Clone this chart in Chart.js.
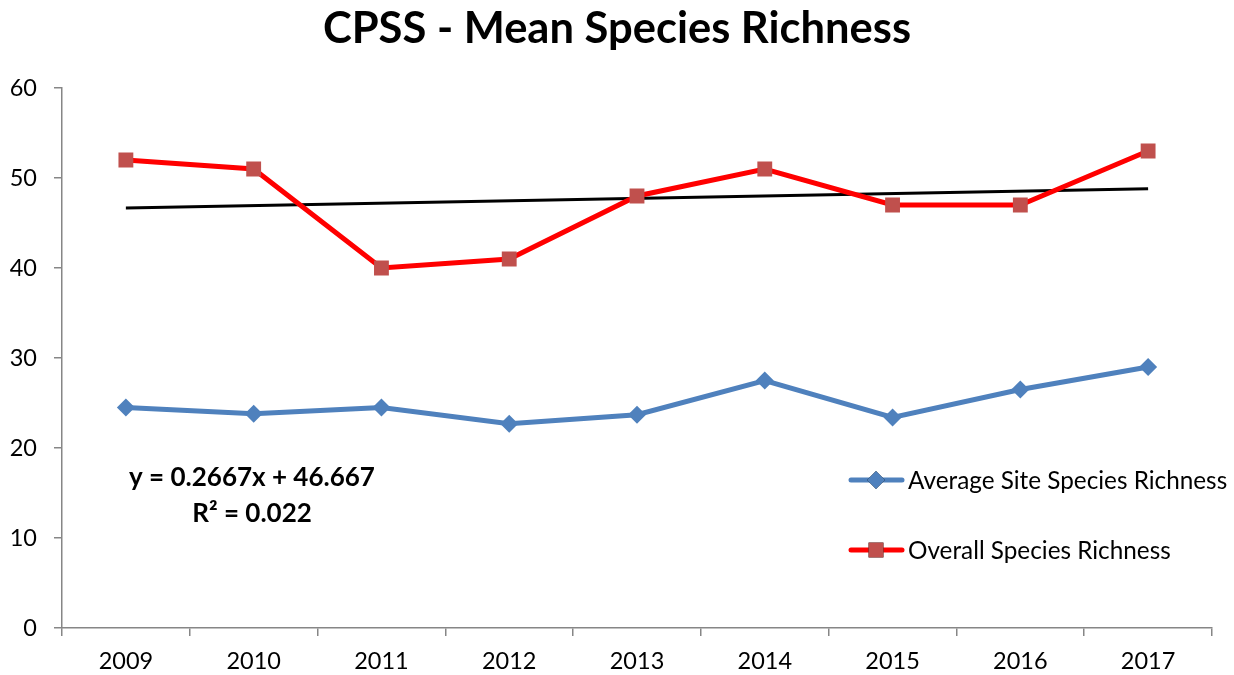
<!DOCTYPE html>
<html>
<head>
<meta charset="utf-8">
<title>CPSS - Mean Species Richness</title>
<script src="https://cdn.jsdelivr.net/npm/chart.js@4"></script>
<style>
  html, body { margin: 0; padding: 0; background: #fff; }
  #wrap { width: 1234px; height: 675px; position: relative; }
</style>
</head>
<body>
<div id="wrap"><canvas id="richnessChart"></canvas></div>
<script>
// survey years and richness values
const years = ['2009', '2010', '2011', '2012', '2013', '2014', '2015', '2016', '2017'];
const averageSite = [24.5, 23.8, 24.5, 22.7, 23.7, 27.5, 23.4, 26.5, 29];
const overall = [52, 51, 40, 41, 48, 51, 47, 47, 53];
const yTicks = [0, 10, 20, 30, 40, 50, 60];

// linear trend of overall richness (x counted from 0 at the first year)
const trendSlope = 0.2667;
const trendIntercept = 46.667;
const trendR2 = 0.022;
const trend = years.map((y, i) =>
    (i === 0 || i === years.length - 1) ? trendIntercept + trendSlope * i : null);

const FONT = 'Lato, "Open Sans", sans-serif';
const AXIS_GREY = '#868686';

// title, trend equation and the in-plot legend
const annotations = {
    id: 'annotations',
    afterDraw(chart) {
        const ctx = chart.ctx;
        ctx.save();
        ctx.fillStyle = '#000';
        ctx.textBaseline = 'middle';

        ctx.font = 'bold 43.5px ' + FONT;
        ctx.textAlign = 'center';
        ctx.fillText('CPSS - Mean Species Richness', 617, 29);

        ctx.font = 'bold 26px ' + FONT;
        ctx.fillText('y = ' + trendSlope + 'x + ' + trendIntercept, 252, 478);
        ctx.fillText('R² = ' + trendR2, 252, 514);

        const items = [
            { label: 'Average Site Species Richness', ds: chart.data.datasets[0], y: 480 },
            { label: 'Overall Species Richness', ds: chart.data.datasets[1], y: 550 }
        ];
        items.forEach(it => {
            ctx.strokeStyle = it.ds.borderColor;
            ctx.lineWidth = it.ds.borderWidth;
            ctx.lineCap = 'round';
            ctx.beginPath();
            ctx.moveTo(851, it.y);
            ctx.lineTo(902, it.y);
            ctx.stroke();
            Chart.helpers.drawPoint(ctx, {
                pointStyle: it.ds.pointStyle,
                radius: it.ds.pointRadius,
                borderWidth: 0
            }, 876, it.y);
            ctx.fillStyle = it.ds.pointBackgroundColor;
            ctx.fill();
            ctx.fillStyle = '#000';
            ctx.textAlign = 'left';
            ctx.font = '24.3px ' + FONT;
            ctx.fillText(it.label, 908, it.y + 1);
        });
        ctx.restore();
    }
};

const config = {
    type: 'line',
    data: {
        labels: years,
        datasets: [{
            label: 'Average Site Species Richness',
            data: averageSite,
            borderColor: '#4F81BD',
            borderWidth: 5,
            pointStyle: 'rectRot',
            pointRadius: 9,
            pointBackgroundColor: '#4F81BD',
            pointBorderColor: '#4F81BD',
            pointBorderWidth: 0,
            tension: 0
        }, {
            label: 'Overall Species Richness',
            data: overall,
            borderColor: '#FF0000',
            borderWidth: 5,
            pointStyle: 'rect',
            pointRadius: 10.5,
            pointBackgroundColor: '#C0504D',
            pointBorderColor: '#C0504D',
            pointBorderWidth: 0,
            tension: 0
        }, {
            label: 'Trend',
            data: trend,
            borderColor: '#000',
            borderWidth: 3,
            pointRadius: 0,
            spanGaps: true
        }]
    },
    options: {
        responsive: false,
        animation: false,
        layout: { padding: { top: 88, right: 22, left: 0, bottom: 0 } },
        plugins: {
            legend: { display: false },
            title: { display: false },
            tooltip: { enabled: false }
        },
        scales: {
            x: {
                offset: true,
                grid: {
                    offset: true,
                    drawOnChartArea: false,
                    drawTicks: true,
                    tickLength: 8,
                    color: AXIS_GREY,
                    lineWidth: 1.5
                },
                border: { color: AXIS_GREY, width: 1.5 },
                ticks: {
                    color: '#000',
                    padding: 11,
                    maxRotation: 0,
                    font: { family: FONT, size: 23.5 }
                },
                afterFit(scale) { scale.height = 47; }
            },
            y: {
                min: 0,
                max: 60,
                afterBuildTicks(scale) { scale.ticks = yTicks.map(v => ({ value: v })); },
                grid: {
                    drawOnChartArea: false,
                    drawTicks: true,
                    tickLength: 8,
                    color: AXIS_GREY,
                    lineWidth: 1.5
                },
                border: { color: AXIS_GREY, width: 1.5 },
                ticks: {
                    color: '#000',
                    padding: 17,
                    font: { family: FONT, size: 23.5 }
                },
                afterFit(scale) { scale.width = 62; }
            }
        }
    },
    plugins: [annotations]
};

const canvas = document.getElementById('richnessChart');
canvas.width = 1234;
canvas.height = 675;
const richnessChart = new Chart(canvas, config);
</script>
</body>
</html>
